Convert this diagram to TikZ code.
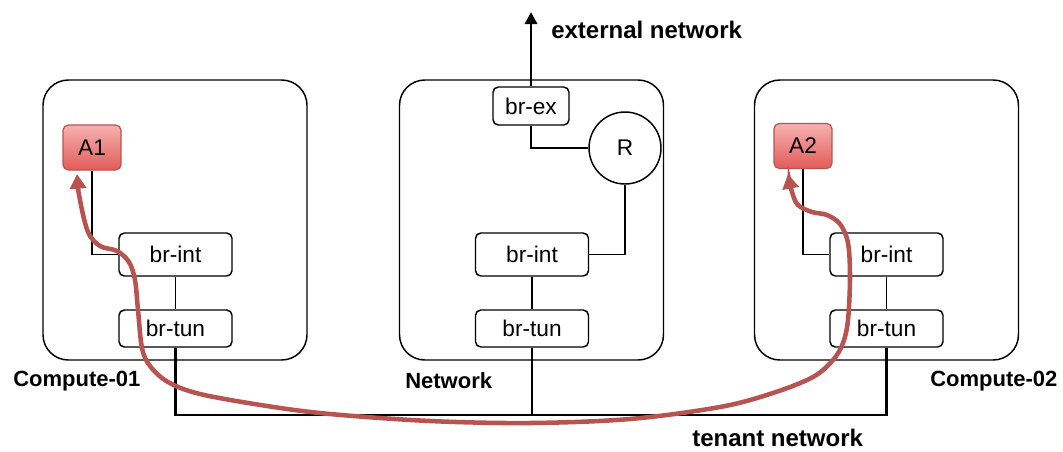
\documentclass[tikz,border=0pt]{standalone}
\usepackage{fontspec}
\setmainfont{Liberation Sans}
\usetikzlibrary{arrows.meta}
\definecolor{pathred}{RGB}{184,84,80}
\definecolor{vmtop}{RGB}{246,178,176}
\definecolor{vmbot}{RGB}{226,92,90}
\tikzset{
  host/.style={draw, line width=1.1pt, rounded corners=19pt, minimum width=198pt, minimum height=210pt},
  bridge/.style={draw, line width=1.1pt, rounded corners=4pt, fill=white, font=\fontsize{17}{20}\selectfont,
                 minimum width=84.75pt, minimum height=32.25pt, inner sep=0pt},
  tunbox/.style={bridge, minimum height=27.75pt},
  vm/.style={draw=pathred, line width=0.9pt, rounded corners=4pt, top color=vmtop, bottom color=vmbot,
             font=\fontsize{17}{20}\selectfont, minimum width=43.5pt, minimum height=33.75pt, inner sep=0pt},
  router/.style={draw, line width=1.1pt, circle, fill=white, minimum size=54pt, inner sep=0pt,
                 font=\fontsize{17}{20}\selectfont},
  link/.style={line width=1.1pt},
  bus/.style={line width=2.2pt},
  hostlabel/.style={anchor=west, inner sep=0pt, font=\fontsize{16.5}{20}\selectfont\bfseries},
  netlabel/.style={anchor=west, inner sep=0pt, font=\fontsize{18}{22}\selectfont\bfseries},
  flow/.style={draw=pathred, line width=3.4pt, line cap=round,
               {Triangle[length=11pt,width=12pt]}-{Triangle[length=11pt,width=12pt]}}
}
\begin{document}
\begin{tikzpicture}[x=0.75pt, y=-0.75pt]
\useasboundingbox (0,0) rectangle (1063,451);

% hosts
\node[host] (h1) at (175,220) {};
\node[host] (h2) at (531.5,220) {};
\node[host] (h3) at (886.5,220) {};

% Compute-01
\node[vm] (a1) at (92,147.5) {A1};
\node[bridge] (c1int) at (175.5,254.5) {br-int};
\node[tunbox] (c1tun) at (175.5,328.5) {br-tun};

% Network node
\node[bridge, minimum width=57pt, minimum height=28.5pt] (brex) at (531,106) {br-ex};
\node[router] (r) at (625,148) {R};
\node[bridge] (nint) at (532,254.5) {br-int};
\node[tunbox] (ntun) at (532,328.5) {br-tun};

% Compute-02
\node[vm] (a2) at (803,146) {A2};
\node[bridge] (c2int) at (886.5,254.5) {br-int};
\node[tunbox] (c2tun) at (886.5,328.5) {br-tun};

% labels
\node[hostlabel] (l1) at (13,381) {Compute-01};
\node[hostlabel] (l2) at (405,381) {Network};
\node[hostlabel] (l3) at (930,381) {Compute-02};
\node[netlabel] (lext) at (551,30) {external network};
\node[netlabel] (lten) at (692,438) {tenant network};

% links inside hosts
\draw[link] (a1.south) |- (c1int.west);
\draw[link] (c1int) -- (c1tun);
\draw[link] (brex.south) |- (r.west);
\draw[link] (r.south) |- (nint.east);
\draw[link] (nint) -- (ntun);
\draw[link] (a2.south) |- (c2int.west);
\draw[link] (c2int) -- (c2tun);

% external uplink
\coordinate (ext) at (531,12);
\draw[bus, -{Triangle[length=9pt,width=9pt]}] (brex.north) -- (ext);

% tenant network bus
\coordinate (bus1) at (175.5,415);
\coordinate (bus2) at (886.5,415);
\draw[bus] (c1tun.south) -- (bus1) -- (bus2) -- (c2tun.south);
\draw[bus] (ntun.south) -- (ntun.south |- bus1);

% traffic path A1 -> A2 through the tunnel
\coordinate (p1) at (77,174);
\coordinate (p2) at (788,174);
\draw[flow] plot[smooth, tension=0.55] coordinates {
  (p1) (80,200) (88,232) (100,246) (117,251) (129,262) (135,280) (138,310)
  (142,348) (150,366) (168,382) (200,394) (267,406) (330,414) (430,421) (530,423)
  (630,419) (720,407) (773,393) (813,377) (833,360) (843,343) (848,320) (850,277)
  (848,243) (840,224) (827,215) (812,212) (798,205) (792,192) (p2)};
\end{tikzpicture}
\end{document}
